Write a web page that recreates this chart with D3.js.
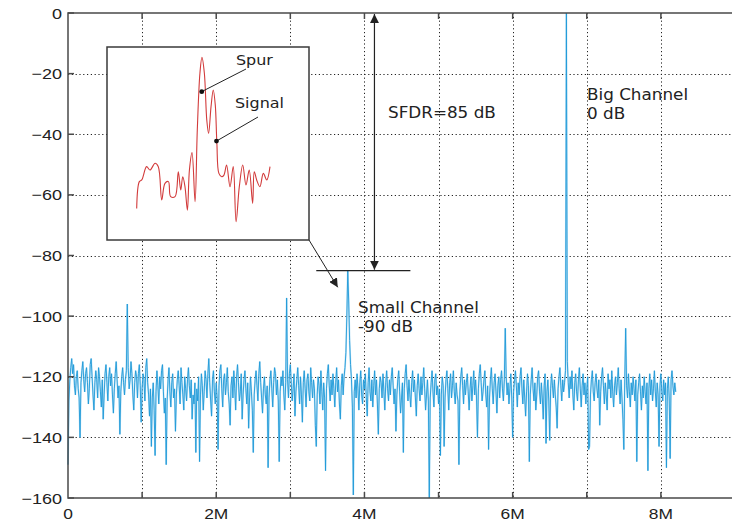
<!DOCTYPE html>
<html>
<head>
<meta charset="utf-8">
<script src="https://cdn.jsdelivr.net/npm/d3@7"></script>
<style>
  body { margin: 0; background: #fff; }
  svg { display: block; }
</style>
</head>
<body>
<svg id="chart" width="732" height="522"></svg>
<script>
// Spectrum bins are spaced 12.5 kHz apart, starting at 0 Hz.
const binStepHz = 12500;

// Measured power per bin (dB relative to the big channel).
const spectrumDb = [
  -149, -128, -121, -117, -114, -119, -116, -123, -126, -120,
  -118, -124, -127, -140, -122, -118, -115, -121, -125, -119,
  -117, -122, -129, -124, -116, -114, -120, -126, -131, -122,
  -118, -121, -127, -117, -120, -125, -130, -121, -134, -126,
  -119, -116, -122, -128, -120, -117, -123, -119, -126, -132,
  -124, -119, -115, -121, -127, -123, -139, -125, -120, -117,
  -122, -126, -121, -118,  -96, -117, -124, -121, -115, -119,
  -126, -131, -122, -118, -120, -127, -119, -116, -123, -135,
  -124, -119, -121, -128, -117, -114, -122, -126, -133, -124,
  -143, -127, -122, -131, -146, -125, -118, -123, -129, -120,
  -124, -118, -116, -125, -132, -127, -149, -128, -121, -117,
  -125, -130, -122, -119, -127, -124, -138, -126, -121, -118,
  -123, -129, -117, -122, -126, -131, -120, -124, -128, -121,
  -117, -123, -127, -121, -134, -126, -129, -122, -145, -124,
  -128, -120, -148, -126, -119, -123, -131, -125, -118, -121,
  -127, -119, -114, -122, -128, -133, -121, -118, -125, -129,
  -122, -127, -144, -123, -118, -116, -124, -130, -121, -119,
  -126, -122, -117, -125, -129, -136, -123, -120, -127, -118,
  -124, -131, -120, -116, -122, -128, -125, -119, -134, -126,
  -121, -118, -124, -129, -122, -137, -127, -120, -125, -131,
  -145, -126, -121, -118, -123, -128, -119, -115, -122, -127,
  -132, -124, -120, -126, -129, -123, -150, -127, -121, -118,
  -124, -130, -122, -117, -119, -126, -121, -128, -148, -125,
  -120, -123, -118, -126, -131, -122,  -94, -121, -127, -119,
  -116, -122, -128, -124, -119, -133, -125, -121, -117, -123,
  -129, -120, -126, -135, -122, -118, -124, -130, -121, -119,
  -125, -128, -117, -122, -127, -121, -124, -136, -143, -126,
  -120, -123, -129, -118, -125, -131, -122, -127, -151, -124,
  -119, -116, -123, -128, -121, -126, -119, -124, -130, -122,
  -117, -125, -121, -129, -134, -123, -119, -126, -120, -117,
  -112, -100,  -85,  -95, -108, -116, -121, -130, -159, -125,
  -121, -127, -119, -124, -131, -122, -118, -126, -129, -121,
  -124, -119, -127, -133, -122, -117, -125, -128, -121, -130,
  -123, -118, -126, -121, -129, -139, -124, -120, -122, -127,
  -119, -125, -131, -122, -118, -124, -128, -121, -126, -120,
  -117, -123, -129, -124, -138, -126, -121, -118, -125, -132,
  -127, -122, -145, -124, -119, -116, -123, -128, -121, -126,
  -130, -122, -118, -125, -121, -127, -133, -123, -119, -124,
  -128, -120, -126, -122, -117, -124, -131, -126, -121, -128,
  -160, -127, -122, -118, -125, -130, -121, -119, -126, -123,
  -129, -124, -146, -126, -120, -123, -143, -127, -121, -118,
  -124, -131, -122, -119, -127, -123, -118, -125, -129, -122,
  -126, -128, -149, -125, -120, -117, -123, -129, -121, -126,
  -122, -119, -125, -131, -124, -120, -128, -123, -118, -126,
  -121, -127, -140, -124, -119, -116, -122, -128, -125, -121,
  -118, -126, -130, -123, -144, -127, -121, -117, -124, -129,
  -122, -119, -125, -132, -123, -120, -127, -121, -118, -124,
  -128, -121, -104, -120, -126, -122, -129, -124, -119, -127,
  -140, -125, -121, -118, -123, -130, -122, -126, -120, -117,
  -124, -129, -121, -127, -133, -125, -119, -123, -148, -126,
  -121, -117, -124, -128, -122, -131, -126, -120, -118, -125,
  -129, -122, -127, -134, -123, -119, -142, -125, -121, -128,
  -141, -124, -119, -123, -127, -121, -126, -130, -137, -124,
  -120, -117, -123, -128, -121, -125, -122, -118,    0, -115,
  -122, -127, -120, -124, -118, -126, -131, -122, -119, -125,
  -128, -121, -117, -124, -130, -123, -119, -126, -122, -129,
  -124, -120, -144, -143, -126, -121, -118, -125, -128, -122,
  -119, -124, -127, -121, -136, -125, -120, -117, -123, -129,
  -122, -126, -131, -119, -124, -121, -127, -118, -125, -130,
  -123, -120, -126, -122, -117, -124, -129, -121, -127, -134,
  -144, -121, -104, -123, -127, -119, -125, -130, -122, -126,
  -120, -124, -128, -121, -148, -126, -122, -119, -125, -131,
  -123, -127, -120, -125, -129, -122, -151, -124, -119, -126,
  -121, -128, -124, -118, -125, -130, -122, -126, -143, -123,
  -119, -125, -128, -121, -126, -122, -150, -124, -120, -127,
  -147, -121, -118, -123, -126, -122, -125
];

const xTickValues = [0, 2e6, 4e6, 6e6, 8e6];
const xTickLabels = ["0", "2M", "4M", "6M", "8M"];
const xGridValues = [1e6, 2e6, 3e6, 4e6, 5e6, 6e6, 7e6, 8e6];
const yTickValues = [0, -20, -40, -60, -80, -100, -120, -140, -160];
const yTickLabels = ["0", "\u221220", "\u221240", "\u221260", "\u221280", "\u2212100", "\u2212120", "\u2212140", "\u2212160"];

// Zoomed view of the small channel: relative bin offset and level (dB).
const insetOffset = [14.7, 16.0, 17.2, 19.6, 21.3, 23.8, 25.4, 27.1, 28.7, 30.4,
  31.5, 33.7, 35.3, 36.5, 37.5, 38.6, 39.8, 40.8, 42.1, 43.6,
  44.7, 46.0, 47.0, 48.2, 49.4, 50.3, 51.5, 52.6, 53.6, 54.4,
  55.4, 56.8, 57.9, 59.2, 60.9, 62.5, 63.9, 65.5, 67.2, 68.8,
  70.4, 72.1, 72.9, 74.1, 75.7, 77.4, 79.1, 80.7];
const insetDb = [-66.9, -55.8, -55.1, -49.6, -51.0, -48.2, -49.6, -63.4, -56.5, -55.8,
  -62.0, -62.0, -51.7, -59.3, -53.8, -57.9, -67.6, -51.0, -43.8, -64.1,
  -34.4, -10.9, -4.3, -10.9, -30.3, -35.8, -24.7, -17.8, -24.0, -40.0,
  -52.4, -53.8, -53.1, -48.9, -57.9, -49.6, -72.4, -57.9, -48.9, -57.2,
  -51.0, -64.8, -51.7, -55.1, -57.9, -52.4, -55.1, -49.6];
const insetMarkerLabels = ["Spur", "Signal"];
const insetMarkerOffset = [46.9, 54.2];
const insetMarkerDb = [-18.5, -39.0];

// Plot geometry
const svg = d3.select("#chart");
const plotLeft = 68, plotTop = 13, plotBottom = 498, plotRight = 735;
const x = d3.scaleLinear().domain([0, 9e6]).range([plotLeft, plotRight]);
const y = d3.scaleLinear().domain([-160, 0]).range([plotBottom, plotTop]);

const axisColor = "#4a4a4a";
const textColor = "#222";
const tickFont = "'Liberation Sans', Arial, sans-serif";
const noteFont = "'DejaVu Sans', sans-serif";

// Text drawn slightly widened horizontally
function label(g, text, px, py, opts) {
  const o = Object.assign({ anchor: "start", size: 15, family: noteFont, sx: 1.12 }, opts || {});
  return g.append("text")
    .attr("transform", `translate(${px},${py}) scale(${o.sx},1)`)
    .attr("text-anchor", o.anchor)
    .attr("font-family", o.family)
    .attr("font-size", o.size)
    .attr("fill", textColor)
    .text(text);
}

// Grid
const grid = svg.append("g").attr("stroke", "#222").attr("stroke-width", 1)
  .attr("stroke-dasharray", "1.2,2.6").attr("fill", "none");
grid.selectAll("line.v").data(xGridValues).join("line")
  .attr("x1", d => Math.round(x(d)) + 0.5).attr("x2", d => Math.round(x(d)) + 0.5)
  .attr("y1", plotTop).attr("y2", plotBottom);
grid.selectAll("line.h").data(yTickValues.slice(1, -1)).join("line")
  .attr("x1", plotLeft).attr("x2", plotRight)
  .attr("y1", d => Math.round(y(d)) + 0.5).attr("y2", d => Math.round(y(d)) + 0.5);

// Spectrum trace (soft halo under a crisp line)
const line = d3.line()
  .x((d, i) => x(i * binStepHz))
  .y(d => y(d));
svg.append("path")
  .datum(spectrumDb)
  .attr("fill", "none")
  .attr("stroke", "#8fcdee")
  .attr("stroke-width", 1.8)
  .attr("opacity", 0.55)
  .attr("d", line);
svg.append("path")
  .datum(spectrumDb)
  .attr("fill", "none")
  .attr("stroke", "#1f9ad8")
  .attr("stroke-width", 0.9)
  .attr("stroke-linejoin", "round")
  .attr("d", line);

// Frame and inward ticks
const frame = svg.append("g").attr("stroke", axisColor).attr("stroke-width", 1.5).attr("fill", "none");
frame.append("path").attr("d", `M${plotRight},${plotTop}H${plotLeft}V${plotBottom}H${plotRight}`);
const tickLen = 6;
xGridValues.forEach(v => {
  frame.append("line").attr("x1", x(v)).attr("x2", x(v)).attr("y1", plotTop).attr("y2", plotTop + tickLen);
  frame.append("line").attr("x1", x(v)).attr("x2", x(v)).attr("y1", plotBottom).attr("y2", plotBottom - tickLen);
});
yTickValues.forEach(v => {
  frame.append("line").attr("x1", plotLeft).attr("x2", plotLeft + tickLen).attr("y1", y(v)).attr("y2", y(v));
});

// Tick labels
const tl = svg.append("g");
xTickValues.forEach((v, i) => label(tl, xTickLabels[i], x(v), 518.5, { anchor: "middle", family: tickFont, size: 14.5, sx: 1.2 }));
yTickValues.forEach((v, i) => label(tl, yTickLabels[i], 62, y(v) + 5.5, { anchor: "end", family: tickFont, sx: 1.2 }));

// Annotations
const ann = svg.append("g");
const defs = svg.append("defs");
defs.append("marker").attr("id", "arrow").attr("viewBox", "0 0 10 10")
  .attr("refX", 10).attr("refY", 5).attr("markerWidth", 9).attr("markerHeight", 9)
  .attr("orient", "auto-start-reverse").attr("markerUnits", "userSpaceOnUse")
  .append("path").attr("d", "M0,0L10,5L0,10Z").attr("fill", "#222");

const sfdrDb = -85;
const sfdrX = x(4.135e6);
ann.append("line")
  .attr("x1", sfdrX).attr("x2", sfdrX)
  .attr("y1", y(0) + 1).attr("y2", y(sfdrDb) - 1)
  .attr("stroke", "#222").attr("stroke-width", 1.2)
  .attr("marker-start", "url(#arrow)").attr("marker-end", "url(#arrow)");
ann.append("line")
  .attr("x1", x(3.35e6)).attr("x2", x(4.62e6))
  .attr("y1", y(sfdrDb)).attr("y2", y(sfdrDb))
  .attr("stroke", "#222").attr("stroke-width", 1.2);

label(ann, "SFDR=85 dB", 388, 118);
label(ann, "Big Channel", 587, 100);
label(ann, "0 dB", 587, 119);
label(ann, "Small Channel", 358, 313);
label(ann, "-90 dB", 358, 332);

// Inset with the zoomed spur/signal pair
const ix0 = 107, iy0 = 47, iw = 202, ih = 193;
const ix = d3.scaleLinear().domain([0, 100]).range([ix0, ix0 + iw]);
const iy = d3.scaleLinear().domain([-80, 0]).range([iy0 + ih, iy0]);

// Leader from the inset corner to the small channel
ann.append("line")
  .attr("x1", ix0 + iw).attr("y1", iy0 + ih)
  .attr("x2", x(3.64e6)).attr("y2", y(-90.5))
  .attr("stroke", "#222").attr("stroke-width", 1)
  .attr("marker-end", "url(#arrow)");

const inset = svg.append("g");
inset.append("rect")
  .attr("x", ix0).attr("y", iy0).attr("width", iw).attr("height", ih)
  .attr("fill", "#fff").attr("stroke", "#3a3a3a").attr("stroke-width", 1.5);

const insetLine = d3.line()
  .x((d, i) => ix(insetOffset[i]))
  .y(d => iy(d))
  .curve(d3.curveCatmullRom.alpha(0.5));
inset.append("path")
  .datum(insetDb)
  .attr("fill", "none")
  .attr("stroke", "#d23b3b")
  .attr("stroke-width", 1.1)
  .attr("d", insetLine);

const labelPos = [[236, 65], [235, 108]];
const leaderStart = [[246, 69], [258, 117]];
insetMarkerLabels.forEach((t, i) => {
  const mx = ix(insetMarkerOffset[i]), my = iy(insetMarkerDb[i]);
  inset.append("line")
    .attr("x1", leaderStart[i][0]).attr("y1", leaderStart[i][1])
    .attr("x2", mx).attr("y2", my)
    .attr("stroke", "#222").attr("stroke-width", 1);
  inset.append("circle").attr("cx", mx).attr("cy", my).attr("r", 2.4).attr("fill", "#111");
  label(inset, t, labelPos[i][0], labelPos[i][1], { size: 14.5, sx: 1.1 });
});
</script>
</body>
</html>
